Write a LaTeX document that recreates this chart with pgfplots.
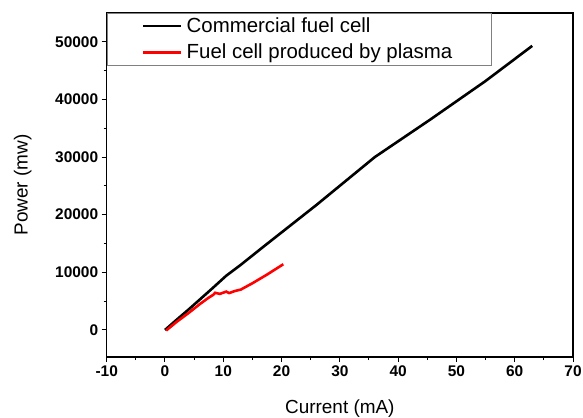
\documentclass[border=0pt]{standalone}
\usepackage{fontspec}
\setmainfont{Liberation Sans}
\usepackage{pgfplots}
\pgfplotsset{compat=1.18}
\begin{document}
\begin{tikzpicture}
\begin{axis}[
 scale only axis, width=466.3bp, height=344bp,
 xmin=-10, xmax=70, ymin=-4700, ymax=55000,
 xtick={-10,0,...,70}, ytick={0,10000,...,50000},
 minor x tick num=1, minor y tick num=1,
 tick align=outside, xtick pos=bottom, ytick pos=left,
 major tick length=5bp, minor tick length=3bp,
 axis line style={line width=1.1bp},
 every tick/.style={black, line width=1bp},
 scaled y ticks=false,
 /pgf/number format/1000 sep={},
 /pgf/number format/assume math mode=true,
 ticklabel style={font=\bfseries\fontsize{15.5}{16}\selectfont},
 xlabel={Current (mA)}, ylabel={Power (mw)},
 x label style={at={(axis description cs:0.5,0)}, anchor=base, yshift=-56bp, font=\fontsize{19}{20}\selectfont},
 y label style={at={(axis description cs:0,0.5)}, anchor=base, yshift=79bp, font=\fontsize{19}{20}\selectfont},
 legend style={at={(axis description cs:0,1)}, anchor=north west, draw=gray, line width=0.8bp,
   font=\fontsize{20.5}{22}\selectfont, inner xsep=35bp, inner ysep=2.5bp, row sep=6bp,
   cells={anchor=west}, nodes={inner xsep=4bp}},
 legend image code/.code={\draw[#1] (0bp,0bp) -- (38bp,0bp);},
]
\coordinate (SW) at (rel axis cs:0,0);
\coordinate (NE) at (rel axis cs:1,1);
\addplot[black, line width=2.6bp] coordinates {
 (0,0) (2.3,2030) (4,3500) (8,7100) (10.5,9400) (13,11300) (16.9,14450)
 (26,21700) (36,30000) (45.5,36500) (55,43200) (63,49300)
};
\addlegendentry{Commercial fuel cell}
\addplot[red, line width=2.6bp] coordinates {
 (0.2,-100) (2,1400) (4,2900) (6,4500) (7.5,5600) (8.3,6100) (8.6,6450) (9.4,6250)
 (10.5,6650) (11,6400) (12,6750) (13,7000) (15,8100) (17.5,9600) (20.3,11400)
};
\addlegendentry{Fuel cell produced by plasma}
\end{axis}
\pgfresetboundingbox
\useasboundingbox ([shift={(-106.7bp,-60bp)}]SW) rectangle ([shift={(10bp,13bp)}]NE);
\end{tikzpicture}
\end{document}
